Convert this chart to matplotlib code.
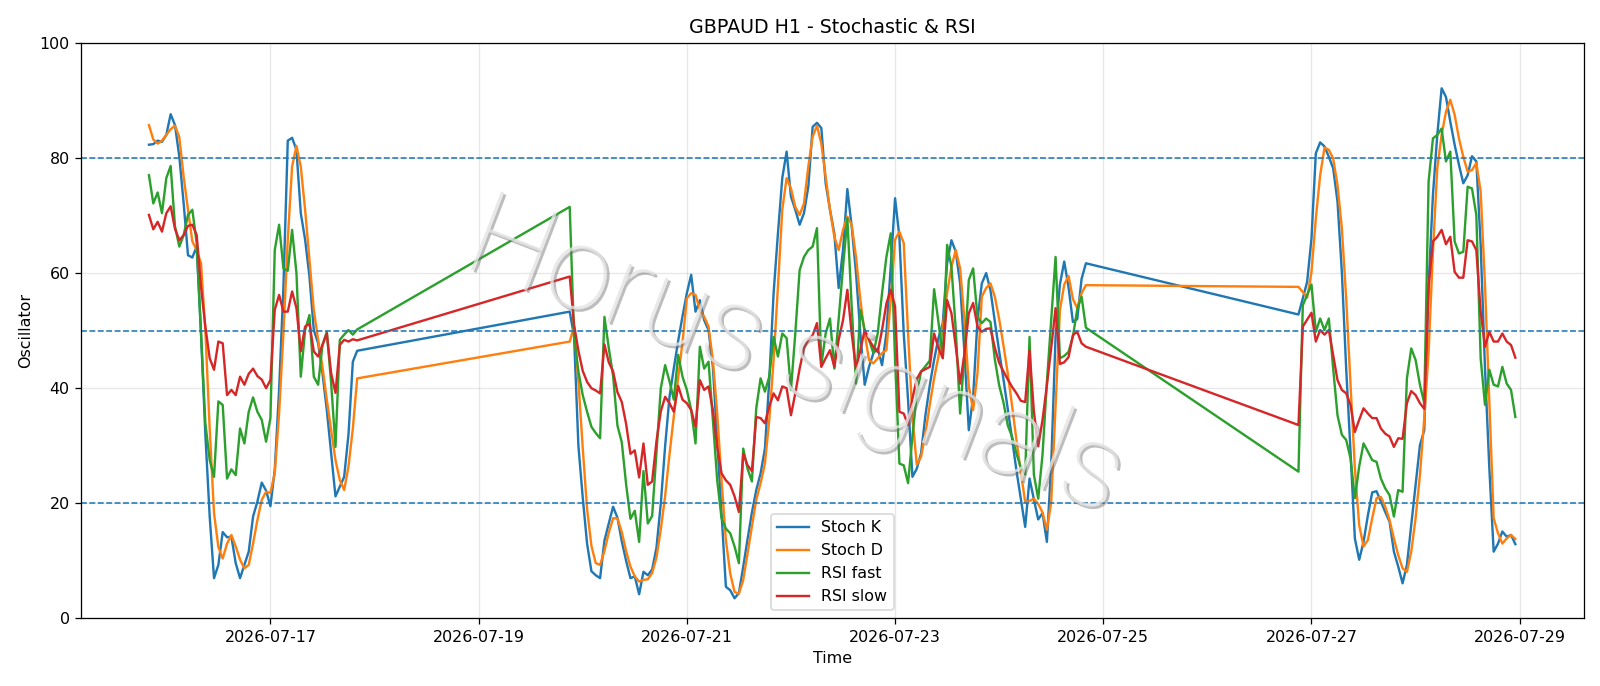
import numpy as np
import pandas as pd
import matplotlib
matplotlib.use("Agg")
import matplotlib.pyplot as plt
import matplotlib.dates as mdates
import matplotlib.patheffects as pe

# hourly bars, three trading sessions (weekend gaps are joined by the lines)
sessions = [("2026-07-15 20:00", "2026-07-17 20:00"),
            ("2026-07-19 21:00", "2026-07-24 20:00"),
            ("2026-07-26 21:00", "2026-07-28 23:00")]

stoch_k = [
    # session 1
    82.3, 82.4, 83.0, 82.8, 84.0, 87.6, 85.7, 80.2, 72.1, 63.1, 62.7, 64.6, 49.5, 32.0, 17.7, 7.0,
    9.3, 15.0, 14.1, 14.2, 9.6, 7.0, 9.3, 11.6, 17.7, 20.3, 23.6, 22.2, 19.5, 25.8, 39.7, 57.6,
    83.0, 83.5, 81.4, 70.4, 65.8, 59.4, 50.1, 47.8, 42.6, 36.2, 28.7, 21.2, 22.9, 24.6, 32.0, 44.6, 46.5,
    # session 2
    53.3, 49.0, 30.0, 21.0, 13.0, 8.2, 7.5, 7.0, 13.5, 16.5,
    19.4, 17.5, 13.4, 10.0, 7.0, 7.3, 4.2, 8.1, 7.5, 8.5,
    12.3, 20.0, 30.0, 38.5, 43.5, 48.2, 52.5, 56.5, 59.7, 53.3,
    55.3, 51.8, 50.1, 43.7, 31.0, 18.3, 5.5, 4.9, 3.5, 4.4,
    9.0, 13.8, 18.4, 22.3, 25.2, 29.5, 41.4, 56.5, 66.9, 76.5,
    81.1, 73.3, 71.0, 68.4, 70.4, 75.0, 85.4, 86.1, 85.2, 75.6,
    71.0, 66.9, 57.4, 64.0, 74.6, 68.1, 60.0, 49.5, 40.6, 43.7,
    46.1, 46.9, 44.0, 49.5, 61.1, 73.0, 66.3, 49.5, 37.9, 24.6,
    26.0, 28.7, 35.3, 40.5, 44.9, 48.7, 51.3, 61.7, 65.7, 63.7,
    58.2, 46.1, 32.7, 38.5, 51.8, 58.2, 60.0, 57.0, 51.6, 46.4,
    41.5, 36.3, 31.1, 25.6, 20.7, 15.9, 24.3, 20.7, 17.2, 18.3,
    13.3, 26.7, 49.0, 58.0, 62.0, 57.5, 51.5, 52.0, 59.0, 61.7,
    # session 3
    52.8, 55.6, 58.5, 66.0, 80.8, 82.7, 82.0, 80.2, 78.2, 72.4, 60.2, 43.4, 29.0, 13.9, 10.2, 13.3,
    17.9, 21.9, 22.1, 20.3, 18.5, 16.8, 11.6, 9.0, 6.1, 9.3, 16.2, 23.2, 30.1, 32.7, 57.9, 73.6,
    84.0, 92.1, 90.6, 86.3, 82.3, 78.8, 75.6, 77.0, 80.3, 79.4, 64.9, 43.4, 26.1, 11.6, 13.0, 15.1,
    14.2, 14.5, 12.9,
]

stoch_d = [
    85.7, 83.2, 82.5, 83.0, 84.0, 85.0, 85.6, 83.6, 76.7, 71.0, 65.5, 64.0, 61.7, 50.0, 33.0, 18.3,
    12.4, 10.4, 13.0, 14.5, 12.5, 10.2, 8.7, 9.3, 13.0, 17.1, 20.6, 22.0, 21.8, 25.2, 35.6, 49.6,
    65.8, 78.5, 82.1, 78.5, 71.0, 62.3, 53.6, 48.4, 43.7, 38.0, 32.7, 27.5, 24.0, 22.3, 26.4, 33.0, 41.7,
    48.1, 50.7, 41.2, 29.6, 19.0, 12.6, 9.6, 9.3, 11.7, 14.9,
    17.4, 17.4, 15.0, 11.7, 9.0, 7.3, 6.4, 6.7, 6.8, 7.9,
    10.6, 15.5, 21.3, 28.5, 35.2, 41.8, 48.0, 55.6, 56.5, 56.2,
    53.6, 52.4, 50.7, 44.9, 35.6, 24.0, 13.6, 7.8, 4.6, 4.3,
    6.7, 11.3, 15.9, 20.6, 23.5, 26.9, 34.5, 44.9, 57.6, 71.0,
    76.5, 74.7, 71.5, 70.1, 72.1, 78.5, 83.7, 85.6, 82.5, 76.7,
    71.0, 66.3, 64.0, 67.5, 69.8, 68.4, 62.8, 55.3, 49.5, 44.9,
    44.3, 45.2, 46.1, 46.6, 55.3, 65.8, 67.2, 65.2, 49.5, 35.0,
    26.7, 28.1, 32.1, 37.1, 41.7, 45.5, 50.7, 56.5, 61.1, 64.0,
    60.8, 51.8, 40.3, 36.2, 42.6, 55.9, 57.4, 58.2, 55.9, 52.0,
    47.4, 42.5, 36.8, 30.9, 25.4, 20.2, 20.4, 20.8, 19.9, 18.4,
    15.4, 20.2, 37.0, 53.5, 58.0, 59.5, 55.5, 53.9, 56.5, 57.9,
    57.6, 56.7, 55.7, 60.2, 69.5, 77.0, 81.8, 81.4, 79.9, 75.3, 67.8, 55.6, 40.6, 26.1, 16.2, 12.5,
    13.6, 17.4, 20.9, 21.1, 19.4, 17.1, 13.9, 11.0, 8.7, 8.1, 11.6, 17.4, 24.9, 34.8, 46.3, 63.7,
    78.2, 84.0, 88.0, 90.1, 87.5, 83.4, 80.2, 77.6, 77.9, 79.1, 74.2, 57.9, 37.7, 17.4, 14.8, 13.0,
    13.9, 14.5, 13.8,
]

rsi_fast = [
    77.0, 72.1, 74.0, 70.4, 76.5, 78.6, 68.1, 64.6, 66.6, 70.1, 71.0, 65.2, 49.5, 33.9, 27.5, 24.6,
    37.7, 37.1, 24.3, 25.9, 24.9, 33.0, 30.4, 35.9, 38.4, 35.9, 34.5, 30.7, 34.8, 64.0, 68.4, 60.8,
    60.4, 67.5, 60.0, 42.0, 50.1, 52.7, 42.0, 40.6, 47.5, 49.8, 40.9, 29.8, 48.4, 49.3, 50.1, 49.3, 50.2,
    71.5, 49.0, 42.9, 38.8, 35.9, 33.3, 32.2, 31.3, 52.4, 47.0,
    42.1, 33.5, 30.6, 23.3, 17.3, 18.7, 13.3, 25.6, 16.5, 17.8,
    28.8, 40.0, 44.0, 41.2, 38.0, 45.8, 42.0, 39.7, 36.2, 30.4,
    47.2, 43.4, 44.6, 34.5, 24.0, 17.4, 15.6, 14.8, 12.5, 9.6,
    29.5, 26.0, 23.8, 36.5, 41.7, 39.4, 42.0, 48.9, 45.5, 49.5,
    48.7, 39.7, 49.5, 60.5, 62.8, 64.0, 64.6, 67.8, 44.0, 49.5,
    52.1, 43.4, 52.0, 61.0, 69.5, 54.2, 40.8, 53.6, 50.1, 48.4,
    46.1, 49.5, 56.5, 62.8, 66.9, 45.0, 26.9, 26.6, 23.5, 31.5,
    39.0, 42.9, 43.8, 44.8, 57.2, 51.5, 45.5, 64.9, 61.1, 50.1,
    35.6, 46.0, 58.8, 60.8, 52.4, 51.3, 52.1, 51.5, 45.0, 40.5,
    37.5, 33.5, 31.5, 28.6, 26.2, 25.0, 48.9, 25.0, 20.8, 28.5,
    41.0, 52.0, 62.8, 45.2, 45.6, 46.3, 49.0, 53.7, 55.9, 50.5,
    25.5, 54.4, 56.2, 58.0, 49.8, 52.1, 50.1, 52.1, 43.4, 35.3, 31.9, 31.0, 27.8, 20.9, 26.4, 30.4,
    29.0, 27.5, 27.2, 24.3, 22.6, 21.4, 17.7, 22.3, 22.0, 41.7, 46.9, 44.9, 40.6, 37.4, 75.9, 83.4,
    84.0, 85.1, 79.4, 81.1, 65.5, 63.4, 63.7, 75.0, 74.7, 70.1, 45.2, 37.1, 43.2, 40.6, 40.3, 43.7,
    40.8, 39.7, 35.0,
]

rsi_slow = [
    70.1, 67.6, 68.9, 67.2, 70.4, 71.6, 67.7, 65.7, 66.6, 68.2, 68.4, 66.6, 57.6, 50.7, 45.2, 43.2,
    48.1, 47.8, 38.8, 39.7, 38.8, 42.0, 40.6, 42.5, 43.4, 42.1, 41.5, 40.0, 41.4, 53.6, 56.2, 53.3,
    53.3, 56.8, 53.9, 46.4, 50.7, 51.2, 46.4, 45.5, 47.5, 49.5, 42.6, 39.2, 47.5, 48.4, 48.1, 48.5, 48.3,
    59.4, 51.0, 46.5, 43.0, 41.1, 40.0, 39.6, 39.1, 47.6, 44.5,
    42.9, 39.3, 37.6, 33.8, 28.6, 29.2, 24.5, 30.4, 23.2, 23.8,
    30.8, 36.0, 38.5, 37.4, 35.9, 40.4, 38.0, 37.4, 36.2, 33.3,
    41.4, 39.7, 40.3, 36.2, 29.8, 25.2, 24.0, 23.2, 21.2, 18.5,
    28.6, 26.6, 25.6, 35.0, 34.8, 33.9, 36.8, 39.1, 37.9, 40.3,
    40.0, 35.3, 39.1, 43.4, 46.9, 48.4, 49.2, 51.3, 43.7, 45.2,
    46.6, 43.7, 48.4, 51.8, 57.1, 49.5, 43.4, 46.6, 50.1, 48.4,
    47.2, 46.3, 50.1, 54.7, 57.1, 54.2, 35.9, 35.6, 33.6, 38.2,
    41.6, 42.9, 43.3, 43.7, 49.5, 47.0, 45.2, 55.3, 53.0, 47.2,
    40.8, 46.0, 53.0, 54.8, 50.7, 49.8, 50.3, 50.4, 47.0, 44.4,
    42.9, 41.5, 40.2, 39.1, 37.8, 37.6, 46.6, 36.0, 29.9, 34.5,
    40.5, 47.0, 53.9, 44.2, 44.5, 45.4, 49.2, 49.8, 47.8, 47.2,
    33.6, 50.7, 51.9, 53.1, 48.1, 50.1, 49.3, 50.1, 45.8, 41.4, 39.7, 39.1, 37.1, 32.4, 34.5, 36.5,
    35.6, 34.8, 34.8, 33.0, 32.1, 31.6, 29.8, 31.3, 31.2, 37.4, 39.5, 38.8, 37.4, 36.4, 57.6, 65.5,
    66.3, 67.5, 65.0, 66.3, 60.2, 59.2, 59.2, 65.7, 65.5, 64.0, 53.3, 47.2, 49.8, 48.1, 48.1, 49.5,
    48.1, 47.5, 45.3,
]

levels = [20, 50, 80]

times = pd.DatetimeIndex([])
for start, end in sessions:
    times = times.append(pd.date_range(start, end, freq="h"))

fig = plt.figure(figsize=(14, 6.003), dpi=1600 / 14)
ax = fig.add_axes([0.0504, 0.0985, 0.9394, 0.839])

ax.plot(times, stoch_k, label="Stoch K")
ax.plot(times, stoch_d, label="Stoch D")
ax.plot(times, rsi_fast, label="RSI fast")
ax.plot(times, rsi_slow, label="RSI slow")

for lvl in levels:
    ax.axhline(lvl, linestyle="--", linewidth=1, color="C0")

ax.set_ylim(0, 100)
ax.set_title("GBPAUD H1 - Stochastic & RSI")
ax.set_xlabel("Time")
ax.set_ylabel("Oscillator")
ax.grid(True, alpha=0.3)
ax.xaxis.set_major_locator(mdates.DayLocator(bymonthday=range(1, 32, 2)))
ax.xaxis.set_major_formatter(mdates.DateFormatter("%Y-%m-%d"))
ax.legend(loc="lower center")

# watermark on top of everything, thin and see-through
fig.text(0.497, 0.475, "Horus signals", family=["Roboto", "DejaVu Sans"], fontweight="light",
         fontsize=74, rotation=-21, ha="center", va="center", color="#e4e4e4", alpha=0.55,
         zorder=10,
         path_effects=[pe.withSimplePatchShadow(offset=(1.5, -1.5), shadow_rgbFace="#6e6e6e", alpha=0.45),
                       pe.Normal()])

fig.savefig("out.png", dpi=1600 / 14)
